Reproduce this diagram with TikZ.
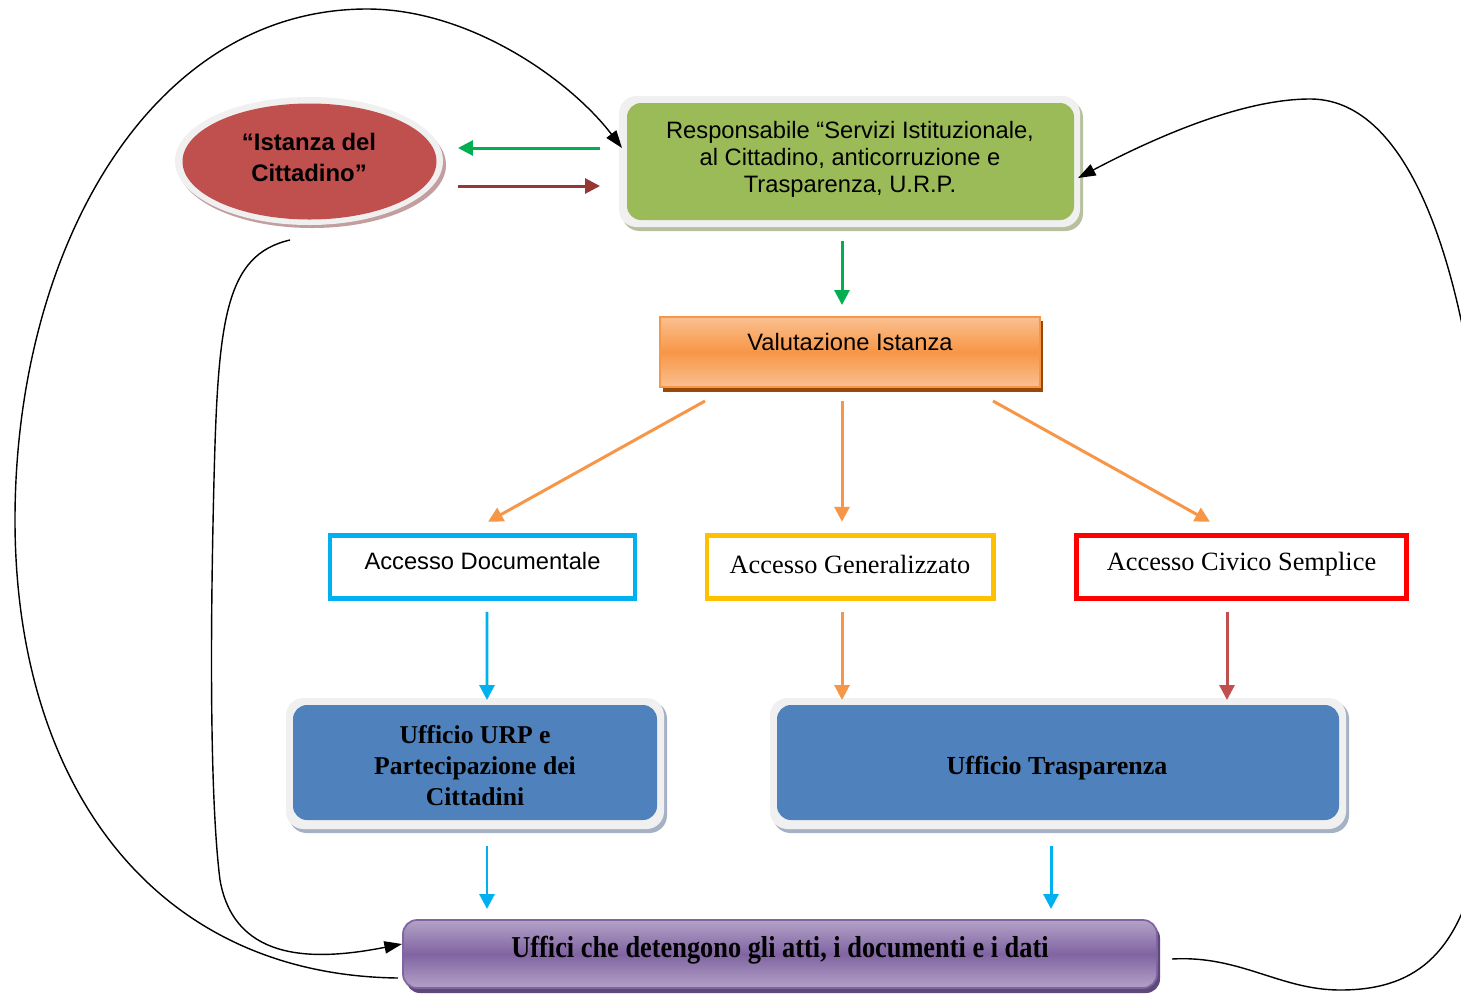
\documentclass[tikz,border=0pt]{standalone}
\usepackage{fontspec}
\setmainfont{Liberation Serif}
\newfontfamily\arialf{Liberation Sans}
\usetikzlibrary{arrows.meta,calc,shapes.geometric}
\definecolor{rimgray}{HTML}{F0F0F0}
\definecolor{ellred}{HTML}{C0504D}
\definecolor{ellshadow}{HTML}{C29E9E}
\definecolor{respgreen}{HTML}{9BBB59}
\definecolor{greenshadow}{HTML}{B7C19F}
\definecolor{orM}{HTML}{F79646}
\definecolor{orL}{HTML}{FAC090}
\definecolor{brownshadow}{HTML}{984807}
\definecolor{accblue}{HTML}{00B0F0}
\definecolor{accyellow}{HTML}{FFC000}
\definecolor{accred}{HTML}{FF0000}
\definecolor{boxblue}{HTML}{4F81BD}
\definecolor{blueshadow}{HTML}{A5B2C5}
\definecolor{puM}{HTML}{8064A2}
\definecolor{puL}{HTML}{B3A2C7}
\definecolor{pushadow}{HTML}{5F497A}
\definecolor{arrgreen}{HTML}{00B050}
\definecolor{arrbrown}{HTML}{953735}
\definecolor{arrred}{HTML}{C0504D}
\newcommand\pxu{0.02cm}
\begin{document}
\begin{tikzpicture}[x=0.02cm,y=-0.02cm,
  every node/.style={outer sep=0pt, inner sep=0pt},
  rimbox/.style={fill=rimgray, rounded corners=10pt},
  roundbox/.style={rounded corners=8pt, draw=none},
  accbox/.style={draw, line width=2.835pt, fill=white},
  colarrow/.style={line width=1.7pt, -{Triangle[length=8.5pt,width=8.5pt]}},
  curvearrow/.style={line width=0.8pt, -{Triangle[length=10pt,width=7pt]}},
  sanstext/.style={font=\arialf\fontsize{13.5}{15.3}\selectfont, align=center},
  serifbold/.style={font=\bfseries\fontsize{14.6}{17.6}\selectfont, align=center}]
\path[use as bounding box, fill=white] (0,0) rectangle (1461,995);
\clip (0,0) rectangle (1461,995);

% ellipse "Istanza del Cittadino"
\fill[ellshadow] (312,165) ellipse [x radius=134*\pxu, y radius=63*\pxu];
\fill[rimgray] (309,161) ellipse [x radius=134*\pxu, y radius=64*\pxu];
\node[ellipse, fill=ellred, minimum width=254*\pxu, minimum height=116*\pxu] (ist) at (309.5,161.5) {};
\node[font=\arialf\bfseries\fontsize{13.6}{17.6}\selectfont, align=center] (istt) at (309,157) {“Istanza del\\Cittadino”};

% Responsabile box
\fill[greenshadow, rounded corners=10pt] (622,100) rectangle (1083,231);
\fill[rimbox] (619,96) rectangle (1080,227);
\node[roundbox, fill=respgreen, minimum width=447*\pxu, minimum height=117*\pxu] (resp) at (850.5,161.5) {};
\node[sanstext] (respt) at (850,159) {Responsabile “Servizi Istituzionale,\\al Cittadino, anticorruzione e\\Trasparenza, U.R.P.};

% Valutazione Istanza
\fill[brownshadow] (663,321) rectangle (1043,392);
\node[draw=orM, line width=1pt, top color=orL, bottom color=orL, middle color=orM,
      minimum width=380*\pxu, minimum height=70*\pxu] (val) at (850,352) {};
\node[sanstext] (valt) at (850,342) {Valutazione Istanza};

% Access boxes
\node[accbox, draw=accblue, minimum width=305*\pxu, minimum height=63.5*\pxu] (accD) at (482.5,567) {};
\node[sanstext] (accDt) at (482.5,561) {Accesso Documentale};
\node[accbox, draw=accyellow, minimum width=286*\pxu, minimum height=63.5*\pxu] (accG) at (850,567) {};
\node[font=\fontsize{15}{18}\selectfont] (accGt) at (850,564) {Accesso Generalizzato};
\node[accbox, draw=accred, minimum width=330*\pxu, minimum height=63.5*\pxu] (accC) at (1241.5,567) {};
\node[font=\fontsize{15}{18}\selectfont] (accCt) at (1241.5,564) {Accesso Civico Semplice};

% Ufficio URP
\fill[blueshadow, rounded corners=10pt] (289,701) rectangle (667,833);
\fill[rimbox] (286,698) rectangle (664,829);
\node[roundbox, fill=boxblue, minimum width=364*\pxu, minimum height=115*\pxu] (urp) at (475,762.5) {};
\node[serifbold] (urpt) at (475,766) {Ufficio URP e\\Partecipazione dei\\Cittadini};

% Ufficio Trasparenza
\fill[blueshadow, rounded corners=10pt] (773,701) rectangle (1349,833);
\fill[rimbox] (770,698) rectangle (1346,829);
\node[roundbox, fill=boxblue, minimum width=562*\pxu, minimum height=115*\pxu] (tra) at (1058,762.5) {};
\node[serifbold, font=\bfseries\fontsize{14.8}{17.6}\selectfont] (trat) at (1057,768) {Ufficio Trasparenza};

% Uffici che detengono
\fill[pushadow, rounded corners=8pt] (406,924) rectangle (1160,993);
\node[rounded corners=8pt, draw=puM, line width=1pt, top color=puL, bottom color=puL, middle color=puM,
      minimum width=754*\pxu, minimum height=68*\pxu] (uff) at (780,954) {};
\node (ufft) at (780,950) {\scalebox{1}[1.15]{\bfseries\fontsize{15}{18}\selectfont Uffici che detengono gli atti, i documenti e i dati}};

% coloured arrows
\draw[colarrow, arrgreen] ($(resp.west)+(-27,-13.5)$) -- ($(ist.east)+(21.5,-13.5)$);
\draw[colarrow, arrbrown] ($(ist.east)+(21.5,24.5)$) -- ($(resp.west)+(-27,24.5)$);
\draw[colarrow, arrgreen] ($(resp.south)+(-8.5,21)$) -- ($(val.north)+(-8,-12)$);
\draw[colarrow, orM] ($(val.south)+(-145,14)$) -- ($(accD.north)+(5.5,-13.5)$);
\draw[colarrow, orM] ($(val.south)+(-8,14)$) -- ($(accG.north)+(-8,-13.5)$);
\draw[colarrow, orM] ($(val.south)+(143,14)$) -- ($(accC.north)+(-31.5,-13.5)$);
\draw[colarrow, accblue] ($(accD.south)+(4.5,13)$) -- ($(urp.north)+(12,-5)$);
\draw[colarrow, orM] ($(accG.south)+(-8,13)$) -- ($(tra.north)+(-216,-5)$);
\draw[colarrow, arrred] ($(accC.south)+(-14.5,13)$) -- ($(tra.north)+(169,-5)$);
\draw[colarrow, accblue] ($(urp.south)+(12,26)$) -- ($(uff.north)+(-293,-11)$);
\draw[colarrow, accblue] ($(tra.south)+(-7,26)$) -- ($(uff.north)+(271,-11)$);

% black curves
\draw[curvearrow] ($(uff.west)+(-5,24)$) .. controls (150,975) and (15,780) .. (15,520)
  .. controls (15,250) and (150,9) .. (367,9)
  .. controls (470,9) and (570,80) .. ($(resp.west)+(-5,-13.5)$);
\draw[curvearrow] ($(ist.south)+(-19.5,20.5)$) .. controls (225,255) and (218,320) .. (214,480)
  .. controls (210,640) and (210,800) .. (220,880)
  .. controls (235,965) and (320,960) .. ($(uff.west)+(-1,-10)$);
\draw[curvearrow] ($(uff.east)+(15,5)$) .. controls (1240,955) and (1280,990) .. (1340,990)
  .. controls (1410,990) and (1460,960) .. (1480,850)
  .. controls (1492,780) and (1490,700) .. (1490,620)
  .. controls (1490,400) and (1445,99) .. (1310,99)
  .. controls (1240,99) and (1150,140) .. ($(resp.east)+(4,16.5)$);
\end{tikzpicture}
\end{document}
